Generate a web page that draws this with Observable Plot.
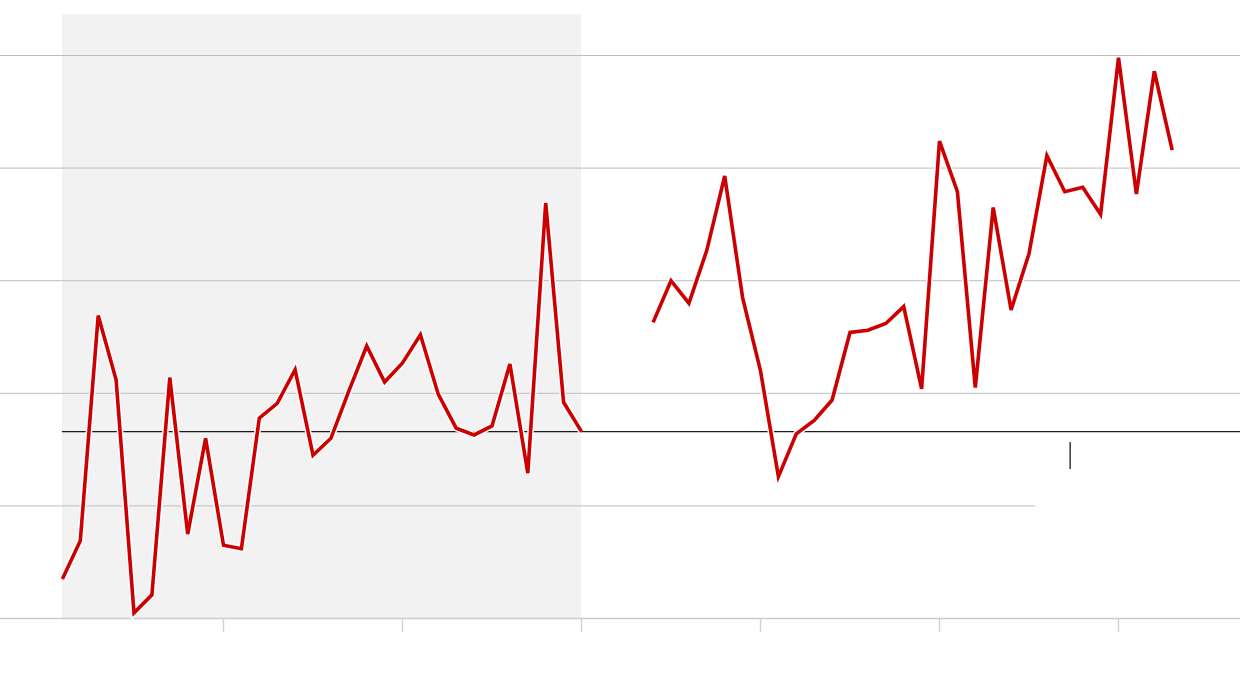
<!DOCTYPE html>
<html>
<head>
<meta charset="utf-8">
<script src="https://cdn.jsdelivr.net/npm/d3@7"></script>
<script src="https://cdn.jsdelivr.net/npm/@observablehq/plot@0.6"></script>
<style>
  html, body { margin: 0; padding: 0; background: #fff; }
  #chart svg { display: block; }
</style>
</head>
<body>
<div id="chart"></div>
<script>
// ---- data ----
const years = d3.range(1941, 2004);
const values = [
  3.5, 6.9, 26.9, 21.2, 0.5, 2.1, 21.4, 7.5, 16.0, 6.5,
  6.2, 17.8, 19.1, 22.1, 14.5, 16.0, 20.2, 24.2, 21.0, 22.7,
  25.2, 19.9, 16.9, 16.3, 17.1, 22.6, 12.9, 36.9, 19.2, 16.6,
  null, null, null,
  26.3, 30.0, 28.0, 32.7, 39.3, 28.5, 22.0, 12.6, 16.4, 17.6,
  19.4, 25.4, 25.6, 26.2, 27.7, 20.4, 42.4, 37.9, 20.5, 36.5,
  27.4, 32.4, 41.1, 37.9, 38.3, 35.9, 49.8, 37.7, 48.6, 41.6
];
const gridValues = [10, 20, 30, 40, 50];
const tickYears = [1950, 1960, 1970, 1980, 1990, 2000];
const baselineValue = 16.6;
const shadedPeriod = [{start: 1941, end: 1970}];
const markerYear = [1997.3];

const table = years.map((year, i) => ({year, value: values[i]}));

// ---- layout ----
const xLeft = 1937.54, xRight = 2006.82, yTop = 53.64;

const chart = Plot.plot({
  width: 1240,
  height: 686,
  marginTop: 0, marginRight: 0, marginBottom: 68, marginLeft: 0,
  x: {domain: [1950, 2000], range: [223, 1118], axis: null},
  y: {domain: [0, 50], range: [618, 55], axis: null},
  marks: [
    Plot.rect(shadedPeriod, {x1: "start", x2: "end", y1: 0, y2: yTop, fill: "#f2f2f2"}),
    Plot.ruleY(gridValues, {
      x1: xLeft,
      x2: d => d === 10 ? 1995.36 : xRight,
      stroke: "#bdbdbd", strokeWidth: 1
    }),
    Plot.ruleY([0], {x1: xLeft, x2: xRight, stroke: "#cccccc", strokeWidth: 1.5}),
    Plot.ruleX(tickYears, {y1: 0, y2: -1.25, stroke: "#d0d0d0", strokeWidth: 1.4}),
    Plot.ruleY([baselineValue], {x1: 1941, x2: xRight, stroke: "#1a1a1a", strokeWidth: 1.3}),
    Plot.line(table, {
      x: "year", y: "value", stroke: "#ffffff", strokeWidth: 6.5,
      strokeLinejoin: "miter", strokeLinecap: "butt", strokeMiterlimit: 4
    }),
    Plot.line(table, {
      x: "year", y: "value", stroke: "#cc0000", strokeWidth: 3.6,
      strokeLinejoin: "miter", strokeLinecap: "butt", strokeMiterlimit: 4
    }),
    Plot.ruleX(markerYear, {y1: 15.63, y2: 13.23, stroke: "#444444", strokeWidth: 1.6})
  ]
});

document.getElementById("chart").appendChild(chart);
</script>
</body>
</html>
